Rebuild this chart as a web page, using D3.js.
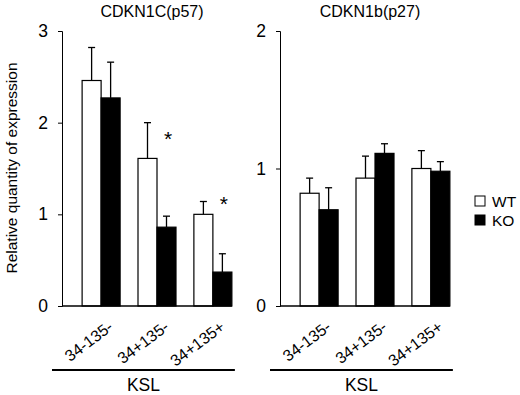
<!DOCTYPE html>
<html>
<head>
<meta charset="utf-8">
<script src="https://cdn.jsdelivr.net/npm/d3@7"></script>
<style>
  body { margin: 0; background: #fff; }
  text { font-family: "Liberation Sans", Arial, sans-serif; fill: #000; }
</style>
</head>
<body>
<div id="chart"></div>
<script>
// data
const groups = ["34-135-", "34+135-", "34+135+"];
const series = ["WT", "KO"];
const p57Mean = [[2.46, 2.27], [1.61, 0.86], [1.00, 0.37]];
const p57Err  = [[0.36, 0.39], [0.39, 0.12], [0.14, 0.20]];
const p57StarY = [null, 1.88, 1.17];   // where the * sits
const p27Mean = [[0.82, 0.70], [0.93, 1.11], [1.00, 0.98]];
const p27Err  = [[0.11, 0.16], [0.16, 0.07], [0.13, 0.07]];
const p57Ticks = [0, 1, 2, 3];
const p27Ticks = [0, 1, 2];

const W = 520, H = 395;
const svg = d3.select("#chart").append("svg")
    .attr("width", W).attr("height", H);

const fills = {WT: "#fff", KO: "#000"};

function panel(opts) {
  const g = svg.append("g");
  const x = d3.scaleBand().domain(groups)
      .range([opts.x0, opts.x0 + 190])
      .paddingInner(0.32).paddingOuter(0.36);
  const xs = d3.scaleBand().domain(series).range([0, x.bandwidth()]);
  const y = d3.scaleLinear().domain([0, opts.max]).range([306, 31]);

  // y axis
  const ya = g.append("g")
      .attr("transform", `translate(${opts.x0},0)`)
      .call(d3.axisLeft(y).tickValues(opts.ticks).tickSize(4).tickPadding(10).tickFormat(d3.format("d")));
  ya.select(".domain").attr("stroke", "#000");
  ya.selectAll("text").style("font-size", "17.5px");

  const xEnd = x(groups[groups.length - 1]) + x.bandwidth();

  // bars
  const gg = g.selectAll(".grp").data(groups).join("g")
      .attr("transform", d => `translate(${x(d)},0)`);
  gg.each(function(grp, i) {
    const sel = d3.select(this);
    series.forEach((s, j) => {
      const v = opts.mean[i][j], e = opts.err[i][j];
      const cx = xs(s) + xs.bandwidth() / 2;
      sel.append("line")
          .attr("x1", cx).attr("x2", cx)
          .attr("y1", y(v)).attr("y2", y(v + e))
          .attr("stroke", "#000").attr("stroke-width", 1.3);
      sel.append("line")
          .attr("x1", cx - 3.5).attr("x2", cx + 3.5)
          .attr("y1", y(v + e)).attr("y2", y(v + e))
          .attr("stroke", "#000").attr("stroke-width", 1.3);
      sel.append("rect")
          .attr("x", xs(s)).attr("width", xs.bandwidth())
          .attr("y", y(v)).attr("height", y(0) - y(v))
          .attr("fill", fills[s]).attr("stroke", "#000").attr("stroke-width", 1.2);
    });
    if (opts.starY && opts.starY[i] != null) {
      sel.append("text")
          .attr("x", x.bandwidth() - 8)
          .attr("y", y(opts.starY[i]) + 12)
          .attr("text-anchor", "middle")
          .style("font-size", "21px")
          .text("*");
    }
  });

  // x axis line
  g.append("line")
      .attr("x1", opts.x0).attr("x2", xEnd)
      .attr("y1", y(0)).attr("y2", y(0))
      .attr("stroke", "#000").attr("stroke-width", 1.3);

  // x labels
  g.selectAll(".xl").data(groups).join("text")
      .attr("transform", d => `translate(${x(d) + x.bandwidth() / 2 + 13},${y(0) + 23}) rotate(-37)`)
      .attr("text-anchor", "end")
      .style("font-size", "16px")
      .text(d => d);

  // KSL bracket
  g.append("line")
      .attr("x1", opts.x0 - 10).attr("x2", xEnd + 3)
      .attr("y1", 370).attr("y2", 370)
      .attr("stroke", "#000").attr("stroke-width", 2.2);
  g.append("text")
      .attr("x", (opts.x0 - 10 + xEnd + 3) / 2).attr("y", 391)
      .attr("text-anchor", "middle")
      .style("font-size", "17.5px")
      .text("KSL");

  // title
  g.append("text")
      .attr("x", opts.titleX).attr("y", 17)
      .attr("text-anchor", "middle")
      .style("font-size", "16px")
      .text(opts.title);
}

panel({x0: 62, max: 3, ticks: p57Ticks, mean: p57Mean, err: p57Err, starY: p57StarY,
       title: "CDKN1C(p57)", titleX: 152});
panel({x0: 280, max: 2, ticks: p27Ticks, mean: p27Mean, err: p27Err, starY: null,
       title: "CDKN1b(p27)", titleX: 370});

// y axis label
svg.append("text")
    .attr("transform", "translate(17,168) rotate(-90)")
    .attr("text-anchor", "middle")
    .style("font-size", "15.5px")
    .text("Relative quantity of expression");

// legend
const lg = svg.append("g").attr("transform", "translate(475,196)");
series.forEach((s, i) => {
  lg.append("rect")
      .attr("x", 0).attr("y", i * 19).attr("width", 10).attr("height", 10)
      .attr("fill", fills[s]).attr("stroke", "#000").attr("stroke-width", 1);
  lg.append("text")
      .attr("x", 17).attr("y", i * 19 + 10.5)
      .style("font-size", "15.5px")
      .text(s);
});
</script>
</body>
</html>
